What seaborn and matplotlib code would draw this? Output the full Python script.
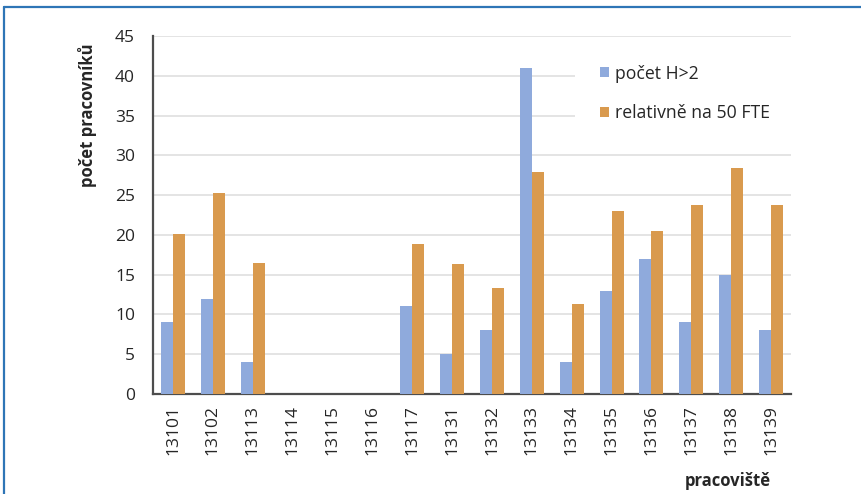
import matplotlib
matplotlib.use("Agg")
import matplotlib.pyplot as plt
from matplotlib.lines import Line2D
import seaborn as sns
import pandas as pd

# Workplaces and the two measured series
categories = ["13101", "13102", "13113", "13114", "13115", "13116", "13117", "13131",
              "13132", "13133", "13134", "13135", "13136", "13137", "13138", "13139"]
pocet_h2 = [9, 12, 4, 0, 0, 0, 11, 5, 8, 41, 4, 13, 17, 9, 15, 8]
relativne_50fte = [20.1, 25.3, 16.5, 0, 0, 0, 18.8, 16.3, 13.3, 27.9, 11.3, 23.0, 20.5, 23.8, 28.4, 23.8]
series_names = ["počet H>2", "relativně na 50 FTE"]
y_ticks = [0, 5, 10, 15, 20, 25, 30, 35, 40, 45]

df = pd.DataFrame({
    "pracoviště": categories * 2,
    "hodnota": pocet_h2 + relativne_50fte,
    "řada": [series_names[0]] * len(categories) + [series_names[1]] * len(categories),
})

sns.set_theme(style="white")
plt.rcParams["font.family"] = ["Open Sans", "DejaVu Sans"]

fig = plt.figure(figsize=(8.62, 4.94), dpi=100)
ax = fig.add_axes([153 / 862, 1 - 394 / 494, 638 / 862, 358 / 494])

palette = {series_names[0]: "#8FAADC", series_names[1]: "#D99A4E"}
sns.barplot(data=df, x="pracoviště", y="hodnota", hue="řada", order=categories,
            hue_order=series_names, palette=palette, width=0.6, gap=0,
            saturation=1, linewidth=0, edgecolor="none", ax=ax, zorder=3)

ax.set_ylim(0, 45)
ax.set_yticks(y_ticks)
ax.set_xlim(-0.5, len(categories) - 0.5)
ax.yaxis.grid(True, color="#E4E4E4", linewidth=1.4, zorder=0)
ax.set_axisbelow(True)
for s in ["top", "right"]:
    ax.spines[s].set_visible(False)
for s in ["left", "bottom"]:
    ax.spines[s].set_color("#4D4D4D")
    ax.spines[s].set_linewidth(1.6)
ax.tick_params(axis="y", length=0, pad=13, labelsize=12.5, labelcolor="#262626")
ax.tick_params(axis="x", length=0, pad=8, labelsize=12.5, labelcolor="#262626", rotation=90)
ax.set_xlabel("")
ax.set_ylabel("")

fig.text(88 / 862, 1 - 115 / 494, "počet pracovníků", rotation=90, ha="center", va="center",
         fontsize=12, fontweight="bold", color="#262626")
fig.text(771 / 862, 1 - 481 / 494, "pracoviště", ha="right", va="center",
         fontsize=12, fontweight="bold", color="#262626")

leg = ax.legend(loc="upper left", bbox_to_anchor=(575 / 862, 1 - 40 / 494),
                bbox_transform=fig.transFigure, frameon=True, facecolor="white",
                edgecolor="none", framealpha=1, fancybox=False, fontsize=12.7,
                handlelength=0.5, handleheight=0.5, handletextpad=0.34,
                labelspacing=1.2, borderpad=1.4, borderaxespad=0)
for t in leg.get_texts():
    t.set_color("#262626")

# Blue frame lines along the top and left edges
frame_color = "#2E75B6"
fig.add_artist(Line2D([4 / 862, 1], [1 - 7.5 / 494, 1 - 7.5 / 494], color=frame_color,
                      linewidth=1.6, transform=fig.transFigure))
fig.add_artist(Line2D([4 / 862, 4 / 862], [0, 1 - 7.5 / 494], color=frame_color,
                      linewidth=1.6, transform=fig.transFigure))

fig.savefig("out.png", dpi=100, facecolor="white")
